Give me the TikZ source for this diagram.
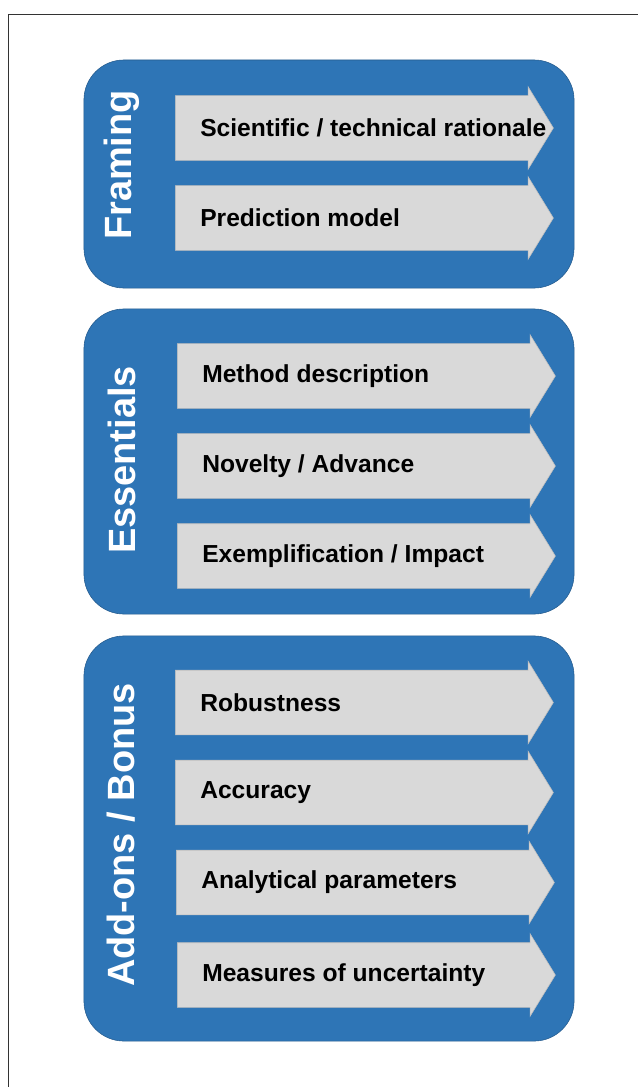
\documentclass[tikz,border=0pt]{standalone}
\usepackage{fontspec}
\setmainfont{Liberation Sans}
\usepackage{xcolor}
\usepackage{tikz}
\usetikzlibrary{shapes.arrows, positioning}

\definecolor{panelblue}{RGB}{46,117,182}
\definecolor{paneledge}{RGB}{38,92,142}
\definecolor{stepgray}{RGB}{217,217,217}
\definecolor{stepedge}{RGB}{190,190,190}

\begin{document}
\begin{tikzpicture}[
    x=0.025cm, y=-0.025cm,
    panel/.style={draw=paneledge, fill=panelblue, rounded corners=1cm, minimum width=12.25cm, inner sep=0},
    paneltitle/.style={rotate=90, text=white, font=\fontsize{27}{30}\selectfont\bfseries, inner sep=0},
    stepbox/.style={single arrow, anchor=tail, draw=stepedge, fill=stepgray, minimum height=9.45cm,
        text height=0.8cm, text depth=0.8cm, text width=0pt,
        single arrow head extend=0.225cm, single arrow tip angle=117, inner sep=0},
    steptext/.style={font=\fontsize{17.5}{20}\selectfont\bfseries, inner sep=0}
]
    \useasboundingbox (0,0) rectangle (638,1087);
    \draw[black!80, line width=0.6pt] (8,1087) -- (8,14) -- (638,14);

    % Framing
    \node[panel, minimum height=5.7cm] at (329,174) (framing) {};
    \node[paneltitle] at (122,165) (framingtitle) {Framing};
    \node[stepbox] at (175,128) (rationale) {};
    \node[stepbox] at (175,218) (model) {};
    \node[steptext, right=0.625cm of rationale.tail, anchor=west] (rationaletext) {Scientific / technical rationale};
    \node[steptext, right=0.625cm of model.tail, anchor=west] (modeltext) {Prediction model};

    % Essentials
    \node[panel, minimum height=7.625cm] at (329,461.5) (essentials) {};
    \node[paneltitle] at (122,460) (essentialstitle) {Essentials};
    \node[stepbox] at (177,376) (method) {};
    \node[stepbox] at (177,466) (novelty) {};
    \node[stepbox] at (177,556) (impact) {};
    \node[steptext, right=0.625cm of method.tail, anchor=west] (methodtext) {Method description};
    \node[steptext, right=0.625cm of novelty.tail, anchor=west] (noveltytext) {Novelty / Advance};
    \node[steptext, right=0.625cm of impact.tail, anchor=west] (impacttext) {Exemplification / Impact};

    % Add-ons / Bonus
    \node[panel, minimum height=10.125cm] at (329,838.5) (addons) {};
    \node[paneltitle] at (121,835) (addonstitle) {Add-ons / Bonus};
    \node[stepbox] at (175,702.5) (robust) {};
    \node[stepbox] at (175,792.5) (accuracy) {};
    \node[stepbox] at (176,882.5) (analytical) {};
    \node[stepbox] at (177,975) (uncertainty) {};
    \node[steptext, right=0.625cm of robust.tail, anchor=west] (robusttext) {Robustness};
    \node[steptext, right=0.625cm of accuracy.tail, anchor=west] (accuracytext) {Accuracy};
    \node[steptext, right=0.625cm of analytical.tail, anchor=west] (analyticaltext) {Analytical parameters};
    \node[steptext, right=0.625cm of uncertainty.tail, anchor=west] (uncertaintytext) {Measures of uncertainty};
\end{tikzpicture}
\end{document}
